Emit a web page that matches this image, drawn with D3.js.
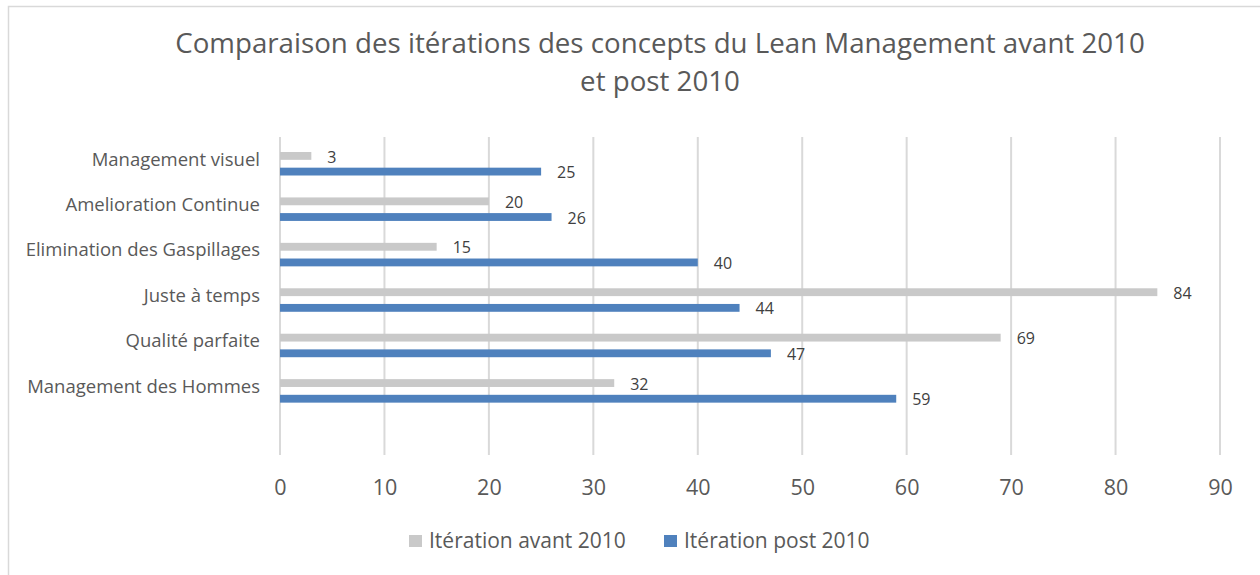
<!DOCTYPE html>
<html>
<head>
<meta charset="utf-8">
<script src="https://cdn.jsdelivr.net/npm/d3@7"></script>
<style>
  body { margin: 0; background: #fff; }
  svg { display: block; font-family: "Open Sans", sans-serif; }
</style>
</head>
<body>
<svg id="chart"></svg>
<script>
// categories, top to bottom as shown
var categories = ["Management visuel", "Amelioration Continue", "Elimination des Gaspillages",
                  "Juste à temps", "Qualité parfaite", "Management des Hommes"];
var avant2010 = [3, 20, 15, 84, 69, 32];
var post2010 = [25, 26, 40, 44, 47, 59];
var seriesNames = ["Itération avant 2010", "Itération post 2010"];
var seriesColors = ["#c9c9c9", "#4f81bd"];
var xTicks = [0, 10, 20, 30, 40, 50, 60, 70, 80, 90];
var titleLines = ["Comparaison des itérations des concepts du Lean Management avant 2010", "et post 2010"];

var svgWidth = 1260, svgHeight = 575;
var plotLeft = 280, plotRight = 1220, plotTop = 137, plotBottom = 455;
var step = (plotBottom - plotTop) / 7;

var svg = d3.select("#chart")
    .attr("width", svgWidth)
    .attr("height", svgHeight);

// chart frame
svg.append("rect")
    .attr("x", 8.5).attr("y", 6.5)
    .attr("width", 1300).attr("height", 700)
    .attr("fill", "none")
    .attr("stroke", "#d9d9d9")
    .attr("stroke-width", 1.5);

// title
svg.append("text")
    .attr("text-anchor", "middle")
    .attr("fill", "#595959")
    .attr("font-size", 27.7)
    .selectAll("tspan")
    .data(titleLines)
    .join("tspan")
    .attr("x", 660)
    .attr("y", function(d, i) { return 53 + i * 38; })
    .text(function(d) { return d; });

var x = d3.scaleLinear()
    .domain([0, 90])
    .range([plotLeft, plotRight]);

var y = d3.scaleBand()
    .domain(categories)
    .range([plotTop, plotTop + step * categories.length]);

var ySub = d3.scaleBand()
    .domain([0, 1])
    .range([15, 38.5])
    .paddingInner(0.5);

// gridlines
svg.append("g")
    .selectAll("line")
    .data(xTicks)
    .join("line")
    .attr("x1", function(d) { return x(d); })
    .attr("x2", function(d) { return x(d); })
    .attr("y1", plotTop)
    .attr("y2", plotBottom)
    .attr("stroke", "#d9d9d9")
    .attr("stroke-width", 2);

// x axis labels
var xAxis = svg.append("g")
    .attr("transform", "translate(0," + plotBottom + ")")
    .call(d3.axisBottom(x).tickValues(xTicks).tickSize(0).tickPadding(24.5));
xAxis.select(".domain").remove();
xAxis.selectAll("text")
    .attr("fill", "#595959")
    .attr("font-size", 21.5)
    .attr("font-family", "Open Sans");

// category labels
var yAxis = svg.append("g")
    .attr("transform", "translate(260,0)")
    .call(d3.axisLeft(y).tickSize(0).tickPadding(0));
yAxis.select(".domain").remove();
yAxis.selectAll("text")
    .attr("fill", "#595959")
    .attr("font-size", 18.5)
    .attr("font-family", "Open Sans");

// bars
var rows = categories.map(function(c, i) {
    return { cat: c, values: [avant2010[i], post2010[i]] };
});

var groups = svg.append("g")
    .selectAll("g")
    .data(rows)
    .join("g")
    .attr("transform", function(d) { return "translate(0," + y(d.cat) + ")"; });

groups.selectAll("rect")
    .data(function(d) { return d.values; })
    .join("rect")
    .attr("x", x(0))
    .attr("y", function(d, i) { return ySub(i); })
    .attr("width", function(d) { return x(d) - x(0); })
    .attr("height", ySub.bandwidth())
    .attr("fill", function(d, i) { return seriesColors[i]; });

groups.selectAll("text")
    .data(function(d) { return d.values; })
    .join("text")
    .attr("x", function(d) { return x(d) + 16; })
    .attr("y", function(d, i) { return ySub(i) + ySub.bandwidth() / 2 + 1; })
    .attr("dy", "0.35em")
    .attr("fill", "#404040")
    .attr("font-size", 16)
    .text(function(d) { return d; });

// legend
var legend = svg.append("g")
    .selectAll("g")
    .data(seriesNames)
    .join("g")
    .attr("transform", function(d, i) { return "translate(" + [409, 664][i] + ",535)"; });

legend.append("rect")
    .attr("width", 13)
    .attr("height", 12)
    .attr("fill", function(d, i) { return seriesColors[i]; });

legend.append("text")
    .attr("x", 20)
    .attr("y", 6)
    .attr("dy", "0.35em")
    .attr("fill", "#595959")
    .attr("font-size", 21)
    .text(function(d) { return d; });
</script>
</body>
</html>
